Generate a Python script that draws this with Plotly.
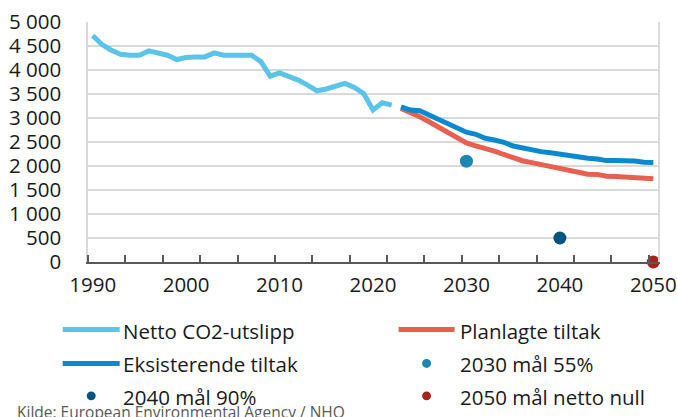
import plotly.graph_objects as go

# ---------------- data ----------------
hist_years = list(range(1990, 2023))
netto = [4720, 4530, 4412, 4329, 4308, 4308, 4398, 4357, 4308, 4218,
         4260, 4273, 4273, 4357, 4308, 4308, 4308, 4308, 4175, 3872,
         3940, 3872, 3789, 3685, 3567, 3605, 3650, 3720, 3637, 3512,
         3165, 3317, 3269]

proj_years = list(range(2023, 2051))
eksisterende = [3234, 3165, 3151, 3061, 2957, 2867, 2770, 2705, 2660, 2577,
                2542, 2494, 2417, 2369, 2334, 2299, 2278, 2244, 2209, 2195,
                2161, 2147, 2112, 2112, 2112, 2105, 2078, 2071]
planlagte = [3200, 3117, 3026, 2922, 2818, 2714, 2590, 2480, 2420, 2370,
             2310, 2240, 2170, 2110, 2070, 2030, 1995, 1955, 1904, 1855,
             1829, 1825, 1785, 1779, 1772, 1740, 1735, 1735]

goal_2030 = (2030, 2100)
goal_2040 = (2040, 500)
goal_2050 = (2050, 0)

y_tickvals = [0, 500, 1000, 1500, 2000, 2500, 3000, 3500, 4000, 4500, 5000]
y_ticktext = ["0", "500", "1 000", "1 500", "2 000", "2 500", "3 000",
              "3 500", "4 000", "4 500", "5 000"]
x_tickvals = [1990, 2000, 2010, 2020, 2030, 2040, 2050]
x_ticktext = ["1990", "2000", "2010", "2020", "2030", "2040", "2050"]

names = ["Netto CO2-utslipp", "Planlagte tiltak", "Eksisterende tiltak",
         "2030 mål 55%", "2040 mål 90%", "2050 mål netto null"]
source = "Kilde: European Environmental Agency / NHO"

# ---------------- style ----------------
C_NETTO = "#5BC4E9"
C_EKS = "#0A89CF"
C_PLAN = "#E8604F"
C_2030 = "#1A87B0"
C_2040 = "#05537F"
C_2050 = "#A6241A"
TXT = "#1a1a1a"
GRID = "#D9D9D9"
AXIS = "#595959"
FONT = "Open Sans"
FS = 20.5

W, H = 677, 417
X0, X1, Y0, Y1 = 88.3, 658.5, 262.3, 21.7  # plot area in pixels


def pxx(x):
    return (x - X0) / (X1 - X0)


def pxy(y):
    return (Y0 - y) / (Y0 - Y1)


fig = go.Figure()
fig.add_trace(go.Scatter(x=hist_years, y=netto, mode="lines",
                         line=dict(color=C_NETTO, width=5), name=names[0]))
fig.add_trace(go.Scatter(x=proj_years, y=planlagte, mode="lines",
                         line=dict(color=C_PLAN, width=5), name=names[1]))
fig.add_trace(go.Scatter(x=proj_years, y=eksisterende, mode="lines",
                         line=dict(color=C_EKS, width=5), name=names[2]))
for (gx, gy), col, nm in [(goal_2030, C_2030, names[3]),
                          (goal_2040, C_2040, names[4]),
                          (goal_2050, C_2050, names[5])]:
    fig.add_trace(go.Scatter(x=[gx], y=[gy], mode="markers", cliponaxis=False,
                             marker=dict(color=col, size=13), name=nm))

# ---------------- custom legend ----------------
shapes = []
annotations = []
rows = [330, 364, 396.5]
legend_items = [
    (names[0], "line", C_NETTO, 0, 0),
    (names[1], "line", C_PLAN, 1, 0),
    (names[2], "line", C_EKS, 0, 1),
    (names[3], "dot", C_2030, 1, 1),
    (names[4], "dot", C_2040, 0, 2),
    (names[5], "dot", C_2050, 1, 2),
]
cols = [(63, 120, 121), (399, 455, 458)]
for nm, kind, col, c, r in legend_items:
    x_a, x_b, x_t = cols[c]
    yy = rows[r]
    if kind == "line":
        shapes.append(dict(type="line", xref="paper", yref="paper",
                           x0=pxx(x_a), x1=pxx(x_b), y0=pxy(yy), y1=pxy(yy),
                           line=dict(color=col, width=5)))
    else:
        cx = (x_a + x_b) / 2
        rr = 4.5
        shapes.append(dict(type="circle", xref="paper", yref="paper",
                           x0=pxx(cx - rr), x1=pxx(cx + rr),
                           y0=pxy(yy + rr), y1=pxy(yy - rr),
                           fillcolor=col, line=dict(width=0)))
    annotations.append(dict(text=nm, xref="paper", yref="paper",
                            x=pxx(x_t), y=pxy(yy + 1), xanchor="left",
                            yanchor="middle", showarrow=False,
                            font=dict(family=FONT, size=FS, color=TXT)))

annotations.append(dict(text=source, xref="paper", yref="paper",
                        x=pxx(15), y=pxy(400), xanchor="left", yanchor="top",
                        showarrow=False,
                        font=dict(family=FONT, size=15.5, color=AXIS)))

fig.update_layout(
    width=W, height=H,
    margin=dict(l=X0, r=W - X1, t=Y1, b=H - Y0, pad=0, autoexpand=False),
    paper_bgcolor="white", plot_bgcolor="white",
    showlegend=False,
    font=dict(family=FONT, size=FS, color=TXT),
    shapes=shapes, annotations=annotations,
    xaxis=dict(range=[1989.5, 2050.5], tickvals=x_tickvals,
               ticktext=x_ticktext, ticks="", showgrid=False,
               zeroline=False, showline=True, linecolor=AXIS, linewidth=1.5,
               ticklabelstandoff=4, automargin=False,
               minor=dict(tickvals=[1989.5 + 4 * k for k in range(16)],
                          ticks="inside", ticklen=7, tickwidth=1.5,
                          tickcolor=AXIS, showgrid=False),
               tickfont=dict(family=FONT, size=FS, color=TXT)),
    yaxis=dict(range=[0, 5000], tickvals=y_tickvals, ticktext=y_ticktext,
               ticks="", showgrid=True, gridcolor=GRID, gridwidth=1.5,
               zeroline=False, showline=True, linecolor=GRID, linewidth=1.5,
               mirror=True, ticklabelstandoff=21, automargin=False,
               tickfont=dict(family=FONT, size=FS, color=TXT)),
)

fig.write_html("out.html",
               config={"displayModeBar": False},
               post_script="document.body.style.margin='0';"
                           "document.body.style.padding='0';")
